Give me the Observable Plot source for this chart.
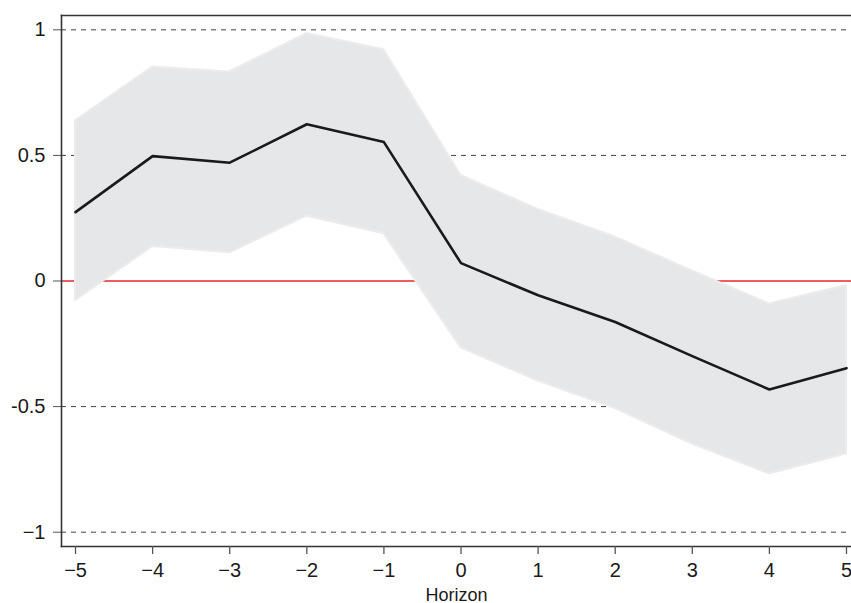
<!DOCTYPE html>
<html>
<head>
<meta charset="utf-8">
<script src="https://cdn.jsdelivr.net/npm/d3@7"></script>
<script src="https://cdn.jsdelivr.net/npm/@observablehq/plot@0.6"></script>
<style>
  body { margin: 0; background: #fff; }
</style>
</head>
<body>
<div id="chart"></div>
<script>
const horizon = [-5, -4, -3, -2, -1, 0, 1, 2, 3, 4, 5]
const estimate = [0.274, 0.497, 0.471, 0.624, 0.553, 0.071, -0.057, -0.163, -0.299, -0.432, -0.347]
const upper = [0.638, 0.852, 0.832, 0.985, 0.921, 0.42, 0.285, 0.175, 0.04, -0.091, -0.018]
const lower = [-0.078, 0.137, 0.112, 0.258, 0.188, -0.266, -0.398, -0.508, -0.649, -0.768, -0.689]

const yTicks = [1, 0.5, 0, -0.5, -1]
const yTickLabels = ["1", "0.5", "0", "-0.5", "\u22121"]
const xTickLabels = ["\u22125", "\u22124", "\u22123", "\u22122", "\u22121", "0", "1", "2", "3", "4", "5"]
const gridValues = [1, 0.5, -0.5, -1]

const data = horizon.map((h, i) => ({h, est: estimate[i], hi: upper[i], lo: lower[i]}))

const chart = Plot.plot({
  width: 851,
  height: 603,
  marginLeft: 61,
  marginRight: 0,
  marginTop: 15,
  marginBottom: 57,
  style: {fontFamily: "'Liberation Sans', Arial, Helvetica, sans-serif", fontSize: "20px", color: "#1a1a1a", background: "#fff", overflow: "visible"},
  x: {domain: [-5.182, 5.065]},
  y: {domain: [-1.057, 1.057]},
  marks: [
    Plot.ruleY(gridValues, {stroke: "#444", strokeWidth: 1, strokeDasharray: "5,5"}),
    Plot.ruleY([0], {stroke: "#e8282b", strokeWidth: 1.3}),
    Plot.areaY(data, {x: "h", y1: "lo", y2: "hi", fill: "#e6e7e9", stroke: "#ececed", strokeWidth: 2}),
    Plot.line(data, {x: "h", y: "est", stroke: "#1a1a1a", strokeWidth: 2.6}),
    Plot.frame({anchor: "left", stroke: "#333", strokeWidth: 1.6}),
    Plot.frame({anchor: "top", stroke: "#333", strokeWidth: 1.6}),
    Plot.frame({anchor: "bottom", stroke: "#333", strokeWidth: 1.6}),
    Plot.axisY({
      ticks: yTicks,
      tickFormat: (d) => yTickLabels[yTicks.indexOf(d)],
      tickSize: 8,
      tickPadding: 8,
      stroke: "#555",
      fontSize: 20,
      fill: "#1a1a1a",
      label: null
    }),
    Plot.axisX({
      ticks: horizon,
      tickFormat: (d) => xTickLabels[horizon.indexOf(d)],
      tickSize: 8,
      tickPadding: 8,
      stroke: "#555",
      strokeWidth: 1.3,
      fontSize: 20,
      fill: "#1a1a1a",
      label: null
    }),
    Plot.axisX({
      ticks: [],
      tickSize: 0,
      label: "Horizon",
      labelAnchor: "center",
      labelArrow: "none",
      labelOffset: 54,
      fontSize: 18,
      fill: "#1a1a1a"
    })
  ]
})

d3.select("#chart").append(() => chart)
</script>
</body>
</html>
